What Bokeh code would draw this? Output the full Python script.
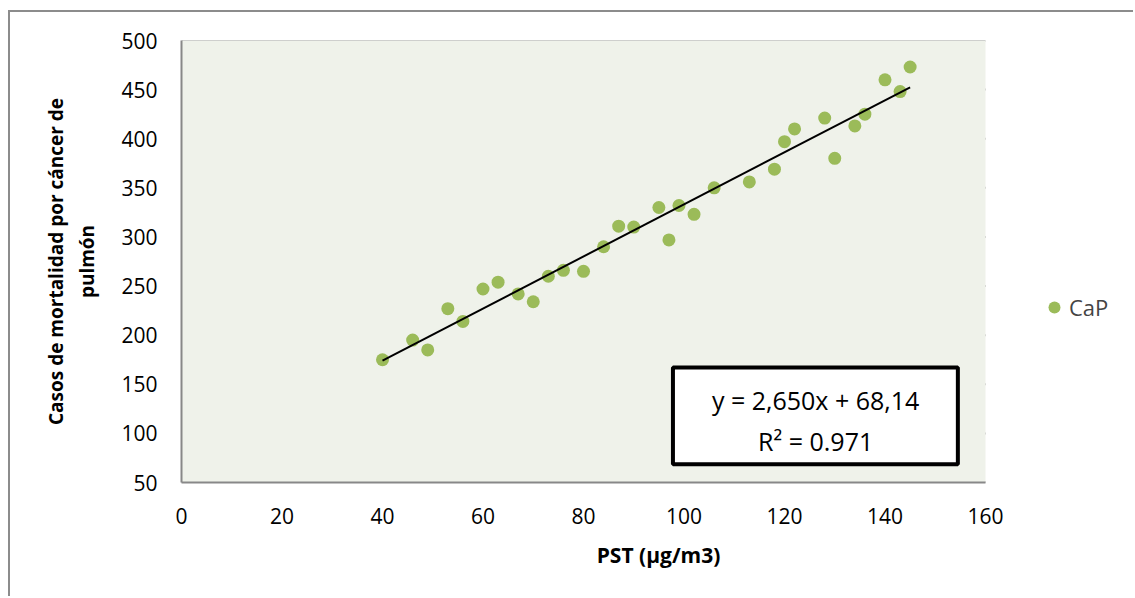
import numpy as np
from bokeh.plotting import figure
from bokeh.models import (Range1d, FixedTicker, BoxAnnotation, Label, Legend, LegendItem,
                          ColumnDataSource)
from bokeh.embed import file_html
from bokeh.resources import INLINE

# Data
pst = [40, 46, 49, 53, 56, 60, 63, 67, 70, 73, 76, 80, 84, 87, 90, 95, 97, 99, 102,
       106, 113, 118, 120, 122, 128, 130, 134, 136, 140, 143, 145]
cap = [175, 195, 185, 227, 214, 247, 254, 242, 234, 260, 266, 265, 290, 311, 310, 330,
       297, 332, 323, 350, 356, 369, 397, 410, 421, 380, 413, 425, 460, 448, 473]
slope = 2.650
intercept = 68.14
r2 = 0.971
x_ticks = [0, 20, 40, 60, 80, 100, 120, 140, 160]
y_ticks = [50, 100, 150, 200, 250, 300, 350, 400, 450, 500]

FONT = "Open Sans"
GREEN = "#9bbb59"
GRID = "#888888"
X_MIN, X_MAX = 0, 160
Y_MIN, Y_MAX = 50, 500

# the frame extends to the right edge so that the legend can sit in it;
# the shaded plot area covers only 0..160 (804 px of the 954 px frame)
AREA_W, FRAME_W = 804, 954
x_end = X_MAX * FRAME_W / AREA_W

p = figure(width=1125, height=586, output_backend="svg", toolbar_location=None,
           x_range=Range1d(X_MIN, x_end), y_range=Range1d(Y_MIN, Y_MAX),
           min_border_left=171, min_border_right=0, min_border_top=28, min_border_bottom=116,
           margin=(10, 0, 0, 8))
p.styles = {"border-left": "2px solid #8c8c8c", "border-top": "2px solid #8c8c8c"}

p.background_fill_color = "white"
p.border_fill_color = "white"
p.outline_line_color = None
p.xgrid.grid_line_color = None
p.ygrid.grid_line_color = None

area = BoxAnnotation(left=X_MIN, right=X_MAX, bottom=Y_MIN, top=Y_MAX,
                     fill_color="#eff2ea", fill_alpha=1.0, line_color=None, level="underlay")
p.add_layout(area)
grid = p.segment(x0=[X_MIN] * len(y_ticks), x1=[X_MAX] * len(y_ticks), y0=y_ticks, y1=y_ticks,
                 line_color=GRID, line_width=2)
grid.level = "underlay"

for ax in (p.xaxis[0], p.yaxis[0]):
    ax.axis_line_color = GRID
    ax.axis_line_width = 2
    ax.major_tick_line_color = None
    ax.minor_tick_line_color = None
    ax.major_tick_out = 0
    ax.major_tick_in = 0
    ax.major_label_text_font = FONT
    ax.major_label_text_font_size = "21px"
    ax.major_label_text_color = "black"
    ax.axis_label_text_font = FONT
    ax.axis_label_text_font_style = "bold"
    ax.axis_label_text_color = "black"

p.xaxis.bounds = (X_MIN, X_MAX)
p.xaxis.ticker = FixedTicker(ticks=x_ticks)
p.yaxis.ticker = FixedTicker(ticks=y_ticks)
p.xaxis.major_label_standoff = 25
p.yaxis.major_label_standoff = 24
p.xaxis.axis_label = "PST (µg/m3)"
p.xaxis.axis_label_text_font_size = "21px"
p.xaxis.axis_label_standoff = 14
p.yaxis.axis_label = "Casos de mortalidad por cáncer de\npulmón"
p.yaxis.axis_label_text_font_size = "19px"
p.yaxis.axis_label_standoff = 18

src = ColumnDataSource(dict(x=pst, y=cap))
pts = p.scatter("x", "y", source=src, size=13, fill_color=GREEN, line_color=None)

# Linear trend line
xs = np.array([min(pst), max(pst)], dtype=float)
p.line(xs, slope * xs + intercept, line_color="black", line_width=2)

# Equation box
box = BoxAnnotation(left=97.8, right=154.5, bottom=68.5, top=167,
                    fill_color="white", fill_alpha=1.0,
                    line_color="black", line_alpha=1.0, line_width=4)
p.add_layout(box)
eq = Label(x=126.2, y=133.5, text=f"y = {slope:.3f}x + {intercept:.2f}".replace(".", ","),
           text_font=FONT, text_font_size="25px", text_align="center",
           text_baseline="middle", text_color="black")
rr = Label(x=126.2, y=92, text=f"R² = {r2:.3f}",
           text_font=FONT, text_font_size="25px", text_align="center",
           text_baseline="middle", text_color="black")
p.add_layout(eq)
p.add_layout(rr)

legend = Legend(items=[LegendItem(label="CaP", renderers=[pts])],
                location=(858, 160), border_line_color=None,
                background_fill_alpha=0, label_text_font=FONT,
                label_text_font_size="22px", glyph_width=30, glyph_height=30,
                label_standoff=0, padding=0, margin=0)
p.add_layout(legend)

open("out.html", "w").write(file_html(p, INLINE))
